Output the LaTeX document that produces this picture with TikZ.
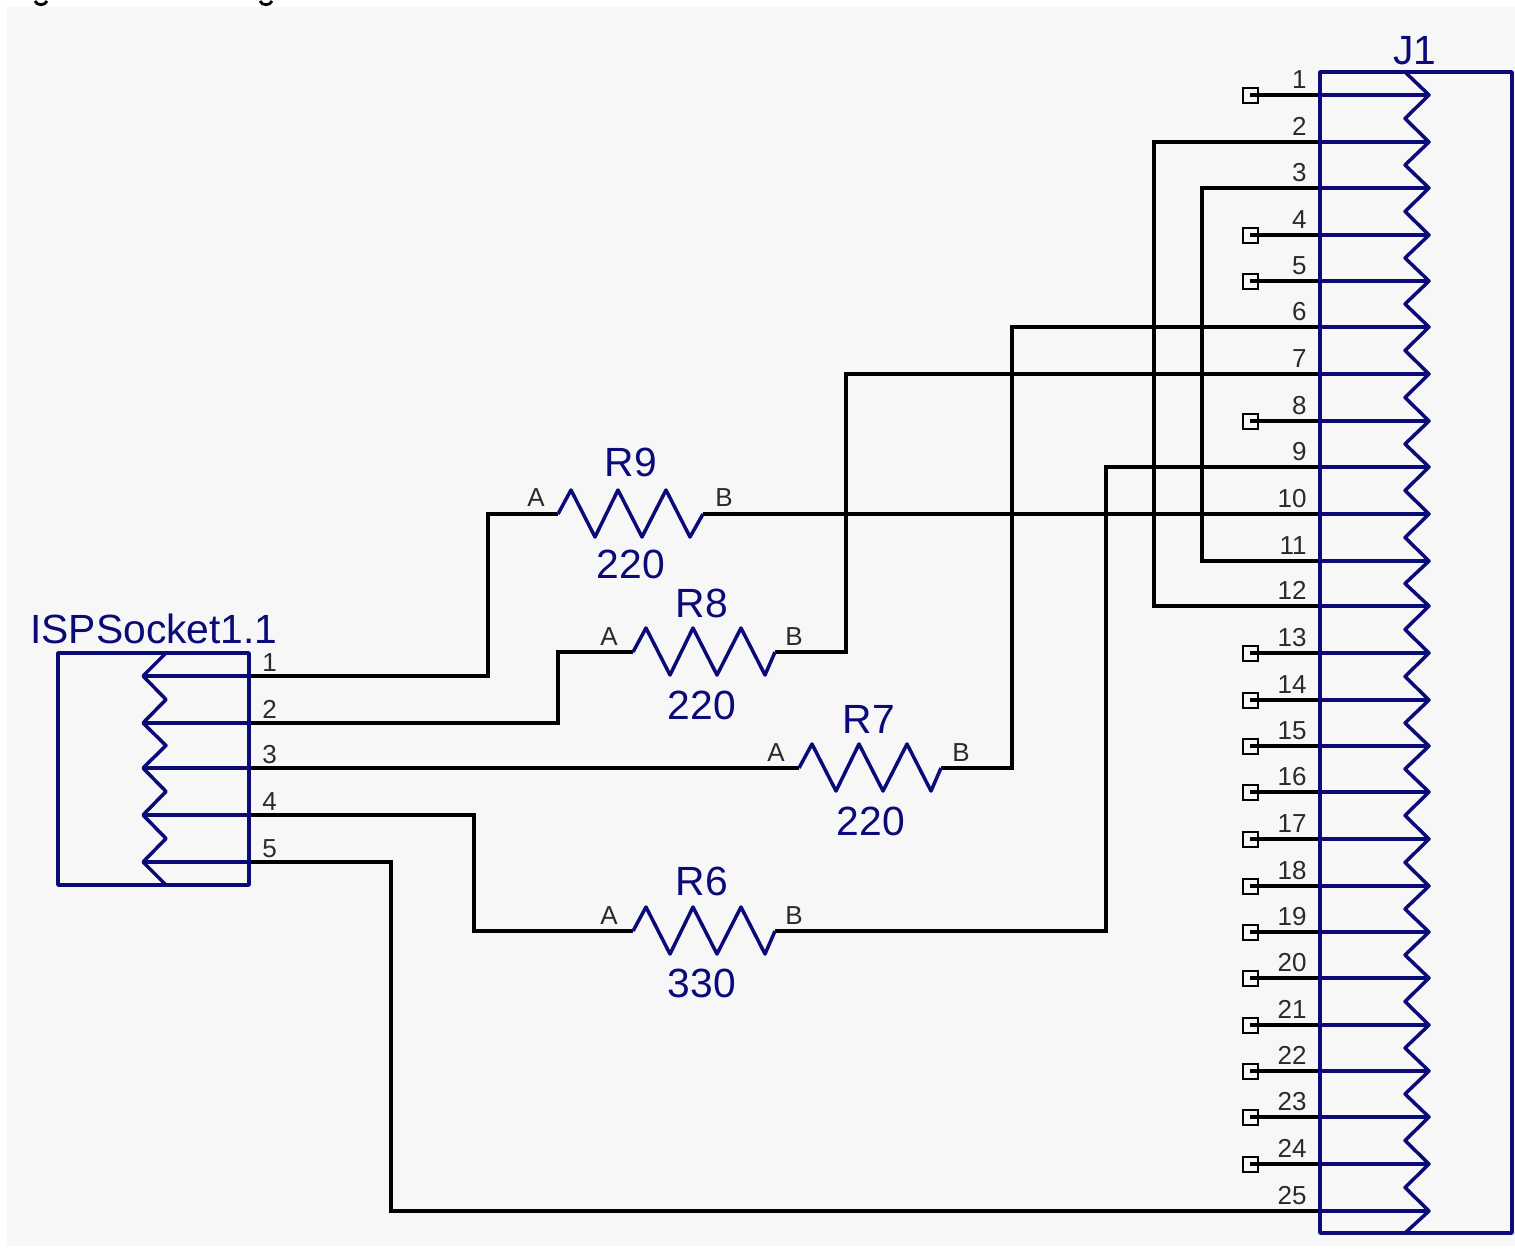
\documentclass[tikz,border=0pt]{standalone}
\usepackage{fontspec}
\usetikzlibrary{calc}
\setmainfont{Liberation Sans}
\definecolor{sch}{HTML}{0A0A78}
\definecolor{pale}{HTML}{F7F7F7}
\definecolor{pinlabel}{HTML}{2A2A2A}
\tikzset{
  wire/.style={draw=black,line width=1.75pt,line join=miter},
  part/.style={draw=sch,line width=1.75pt,line join=round},
  partname/.style={text=sch,font=\fontsize{20.4}{22}\selectfont,inner sep=0pt},
  pinnum/.style={text=pinlabel,font=\fontsize{13}{14}\selectfont,inner sep=0pt},
  ncbox/.style={draw=black,line width=1pt,minimum size=7.5pt,inner sep=0pt,rectangle},
}
\begin{document}
\begin{tikzpicture}[x=0.5pt,y=-0.5pt]
\useasboundingbox (0,0) rectangle (1515,1248);
\fill[white] (0,0) rectangle (1515,1248);
\fill[pale] (7,7) rectangle (1515,1246);
% clipped remains of the caption above the picture
\draw[black,line width=1.4pt] (35,1) .. controls (37,6) and (45,6) .. (47,1);
\draw[black,line width=1.4pt] (260,1) .. controls (262,6) and (270,6) .. (272,1);

% J1 pin coordinates
\foreach \n/\y in {1/95,2/142,3/188,4/235,5/281,6/327,7/374,8/421,9/467,10/514,11/561,12/606,13/653,14/700,15/746,16/792,17/839,18/886,19/932,20/978,21/1025,22/1071,23/1117,24/1164,25/1211}{
  \coordinate (j\n) at (1320,\y);
  \coordinate (jt\n) at (1429,\y);
  \node[pinnum,anchor=base east] (jl\n) at (1307,\y-7) {\n};
}
% ISP socket pin coordinates
\foreach \n/\y in {1/676,2/723,3/768,4/815,5/862}{
  \coordinate (s\n) at (249,\y);
  \coordinate (st\n) at (143,\y);
  \node[pinnum,anchor=base west] (sl\n) at (262,\y-5) {\n};
}
% Not-connected markers
\foreach \n in {1,4,5,8,13,14,15,16,17,18,19,20,21,22,23,24}{
  \node[ncbox] (nc\n) at (1250,0 |- j\n) {};
  \draw[wire] (nc\n.center) -- (j\n);
}
% Resistor terminals
\coordinate (r9a) at (558,514); \coordinate (r9b) at (703,514);
\coordinate (r8a) at (633,652); \coordinate (r8b) at (775,652);
\coordinate (r7a) at (799,768); \coordinate (r7b) at (941,768);
\coordinate (r6a) at (633,931); \coordinate (r6b) at (775,931);

% Wires
\draw[wire] (j2) -| (1154,606) -- (j12);
\draw[wire] (j3) -| (1202,561) -- (j11);
\draw[wire] (j6) -| (1012,768) -- (r7b);
\draw[wire] (j7) -| (846,652) -- (r8b);
\draw[wire] (j9) -| (1106,931) -- (r6b);
\draw[wire] (j10) -- (r9b);
\draw[wire] (r9a) -| (488,676) -- (s1);
\draw[wire] (r8a) -| (558,723) -- (s2);
\draw[wire] (r7a) -- (s3);
\draw[wire] (r6a) -| (474,815) -- (s4);
\draw[wire] (s5) -| (391,1211) -- (j25);

% Resistors
\foreach \r in {9,8,7,6}{
  \draw[part] (r\r a) -- ++(13,-24) -- ++(24,47) -- ++(23,-47) -- ++(24,47) -- ++(24,-47) -- ++(24,47) -- (r\r b);
}
\node[partname,anchor=base] (n9) at (631,476) {R9};
\node[partname,anchor=base] (v9) at (631,578) {220};
\node[partname,anchor=base] (n8) at (702,617) {R8};
\node[partname,anchor=base] (v8) at (702,719) {220};
\node[partname,anchor=base] (n7) at (869,733) {R7};
\node[partname,anchor=base] (v7) at (871,835) {220};
\node[partname,anchor=base] (n6) at (702,895) {R6};
\node[partname,anchor=base] (v6) at (702,997) {330};
\foreach \t/\x/\y in {A/536/506,B/724/506,A/609/645,B/794/645,A/776/761,B/961/761,A/609/924,B/794/924}{
  \node[pinnum,anchor=base] at (\x,\y) {\t};
}

% ISP socket body
\draw[part] (58,653) rectangle (249,885);
\foreach \n in {1,...,5}{ \draw[part] (s\n) -- (st\n); }
\draw[part] (166,653) -- (st1) -- (166,699.5) -- (st2) -- (166,745.5) -- (st3) -- (166,791.5) -- (st4) -- (166,838.5) -- (st5) -- (166,885);
\node[partname,anchor=base west] (sname) at (30,643) {ISPSocket1.1};

% J1 body
\draw[part] (1320,72) rectangle (1512,1233);
\foreach \n in {1,...,25}{ \draw[part] (j\n) -- (jt\n); }
\draw[part] (1405,72) -- (jt1)
  \foreach \a/\b in {1/2,2/3,3/4,4/5,5/6,6/7,7/8,8/9,9/10,10/11,11/12,12/13,13/14,14/15,15/16,16/17,17/18,18/19,19/20,20/21,21/22,22/23,23/24,24/25}{
    -- ($(jt\a)!0.5!(jt\b)+(-24,0)$) -- (jt\b)
  } -- (1405,1233);
\node[partname,anchor=base] (jname) at (1415,64) {J1};
\end{tikzpicture}
\end{document}
